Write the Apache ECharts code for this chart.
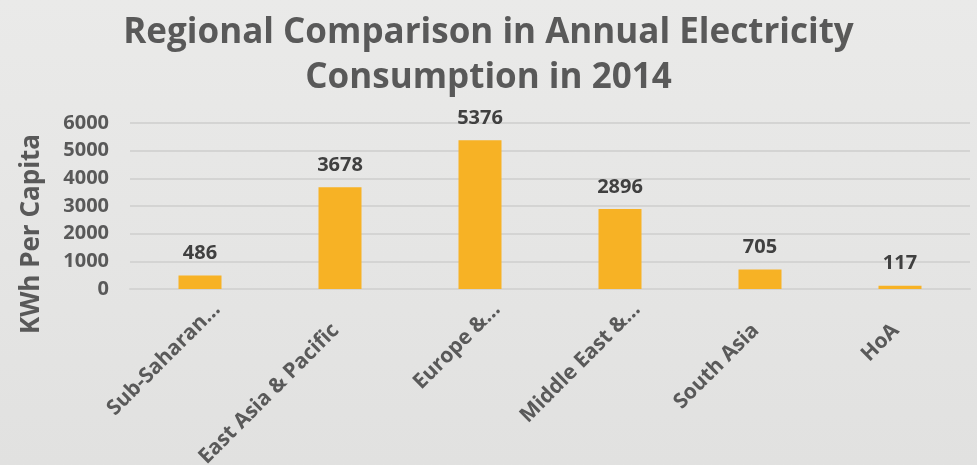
<!DOCTYPE html>
<html>
<head>
<meta charset="utf-8">
<script src="https://cdn.jsdelivr.net/npm/echarts@6/dist/echarts.min.js"></script>
<style>
  html, body { margin: 0; padding: 0; }
  #chart { width: 977px; height: 465px; }
</style>
</head>
<body>
<div id="chart"></div>
<script>
  // categories as shown (Excel truncated the long ones)
  const regions = ['Sub-Saharan…', 'East Asia & Pacific', 'Europe &…', 'Middle East &…', 'South Asia', 'HoA'];
  const kwhPerCapita = [486, 3678, 5376, 2896, 705, 117];
  const yTicks = { min: 0, max: 6000, interval: 1000 };

  const textGray = '#595959';
  const font = 'Open Sans';

  const labelFont = { color: textGray, fontFamily: font, fontWeight: 'bold', fontSize: 21, lineHeight: 48 };

  let chart = echarts.init(document.getElementById('chart'));
  chart.setOption({
    backgroundColor: {
      type: 'linear', x: 0, y: 0, x2: 0, y2: 1,
      colorStops: [{ offset: 0, color: '#eaeae9' }, { offset: 1, color: '#e1e1e0' }]
    },
    title: {
      text: 'Regional Comparison in Annual Electricity\nConsumption in 2014',
      left: 'center',
      top: 6,
      textStyle: {
        fontFamily: font,
        fontWeight: 'bold',
        fontSize: 35,
        lineHeight: 45,
        color: textGray
      }
    },
    grid: {
      left: 130,
      right: 7,
      top: 123,
      bottom: 176,
      outerBoundsMode: 'none',
      containLabel: false
    },
    xAxis: {
      type: 'category',
      data: regions,
      axisLine: { show: true, lineStyle: { color: '#d4d4d3', width: 2 } },
      axisTick: { show: false },
      axisLabel: Object.assign({
        rotate: 45,
        interval: 0,
        margin: 0,
        // tall line box + top align pushes the rotated text down-right like Excel
        verticalAlign: 'top',
        // full (untruncated) names end a bit earlier in the original
        formatter: v => v.endsWith('…') ? '{t|' + v + '}' : '{f|' + v + '}',
        rich: {
          t: Object.assign({}, labelFont),
          f: Object.assign({ padding: [0, 30, 0, 0] }, labelFont)
        }
      }, labelFont)
    },
    yAxis: {
      type: 'value',
      min: yTicks.min,
      max: yTicks.max,
      interval: yTicks.interval,
      name: 'KWh Per Capita',
      nameLocation: 'middle',
      nameGap: 85,
      nameRotate: 90,
      nameTextStyle: {
        color: textGray,
        fontFamily: font,
        fontWeight: 'bold',
        fontSize: 26,
        padding: [0, 56, 0, 0]
      },
      axisLine: { show: false },
      axisTick: { show: false },
      splitLine: { lineStyle: { color: '#d4d4d3', width: 2 } },
      axisLabel: {
        margin: 21,
        color: textGray,
        fontFamily: font,
        fontWeight: 'bold',
        fontSize: 20,
        formatter: v => String(v)
      }
    },
    series: [{
      type: 'bar',
      data: kwhPerCapita,
      barWidth: 43,
      itemStyle: { color: '#f7b225' },
      label: {
        show: true,
        position: 'top',
        distance: 12,
        color: '#404040',
        fontFamily: font,
        fontWeight: 'bold',
        fontSize: 20
      }
    }]
  });
</script>
</body>
</html>
